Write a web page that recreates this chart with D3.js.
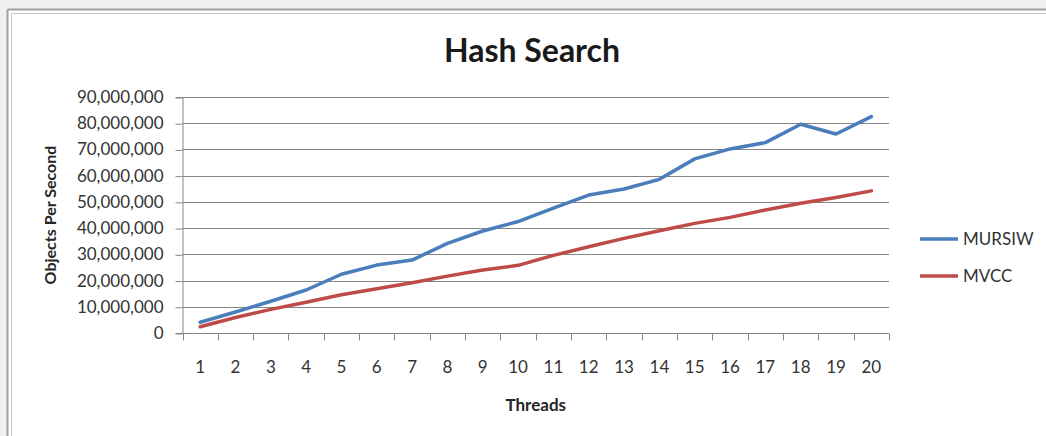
<!DOCTYPE html>
<html>
<head>
<meta charset="utf-8">
<script src="https://cdn.jsdelivr.net/npm/d3@7"></script>
<style>
  html, body { margin: 0; padding: 0; background: #f0f0f0; }
  svg { display: block; }
  text { font-family: Lato, "Open Sans", sans-serif; }
</style>
</head>
<body>
<svg id="chart" width="1046" height="436"></svg>
<script>
// Thread counts on the x axis
const threads = [1, 2, 3, 4, 5, 6, 7, 8, 9, 10, 11, 12, 13, 14, 15, 16, 17, 18, 19, 20];

// Objects per second for each thread count
const mursiw = [4100000, 8000000, 12100000, 16400000, 22400000, 25900000, 27800000, 34200000, 38900000, 42500000,
                47600000, 52600000, 54900000, 58600000, 66400000, 70200000, 72600000, 79600000, 75900000, 82500000];
const mvcc   = [2400000, 5900000, 9000000, 11700000, 14600000, 16900000, 19200000, 21700000, 24000000, 25800000,
                29600000, 32900000, 36100000, 39000000, 41800000, 44100000, 46900000, 49500000, 51700000, 54200000];

// Y axis tick values
const yTicks = [0, 10000000, 20000000, 30000000, 40000000, 50000000, 60000000, 70000000, 80000000, 90000000];

const seriesNames = ["MURSIW", "MVCC"];
const seriesColors = ["#4a7ebb", "#be4b48"];
const seriesValues = [mursiw, mvcc];

const svg = d3.select("#chart");

// Chart frame: white panel with a double gray border on top and left
svg.append("rect").attr("x", 7).attr("y", 9).attr("width", 1046).attr("height", 436).attr("fill", "#ffffff");
const frame = svg.append("g").attr("fill", "none");
frame.append("line").attr("x1", 7.5).attr("x2", 1046).attr("y1", 9.5).attr("y2", 9.5).attr("stroke", "#a0a0a0").attr("stroke-width", 2);
frame.append("line").attr("x1", 7.5).attr("x2", 7.5).attr("y1", 9.5).attr("y2", 436).attr("stroke", "#a0a0a0").attr("stroke-width", 2);
frame.append("line").attr("x1", 11.5).attr("x2", 1046).attr("y1", 13.5).attr("y2", 13.5).attr("stroke", "#c8c8c8").attr("stroke-width", 1);
frame.append("line").attr("x1", 11.5).attr("x2", 11.5).attr("y1", 13.5).attr("y2", 436).attr("stroke", "#c8c8c8").attr("stroke-width", 1);

const plot = { left: 182.5, right: 889, top: 97, bottom: 333 };

const x = d3.scaleBand().domain(threads).range([plot.left, plot.right]).padding(0);
const y = d3.scaleLinear().domain([0, 90000000]).range([plot.bottom, plot.top]);
const fmt = d3.format(",");

// Horizontal gridlines
svg.append("g")
  .selectAll("line")
  .data(yTicks)
  .join("line")
  .attr("x1", plot.left)
  .attr("x2", plot.right)
  .attr("y1", d => Math.round(y(d)) + 0.5)
  .attr("y2", d => Math.round(y(d)) + 0.5)
  .attr("stroke", "#858585")
  .attr("stroke-width", 1.2);

// Y axis
const yAxis = svg.append("g")
  .attr("transform", `translate(${plot.left},0)`)
  .call(d3.axisLeft(y).tickValues(yTicks).tickFormat(fmt).tickSize(7).tickPadding(12));
yAxis.select(".domain").attr("stroke", "#858585");
yAxis.selectAll(".tick line").attr("stroke", "#858585").attr("transform", "translate(0,0.5)");
yAxis.selectAll(".tick text")
  .attr("font-family", "Lato, sans-serif")
  .attr("font-size", 17)
  .attr("fill", "#333333");

// X axis: ticks sit on category boundaries, labels at category centres
const xAxis = svg.append("g")
  .attr("transform", `translate(0,${Math.round(plot.bottom) + 0.5})`);
xAxis.append("line")
  .attr("x1", plot.left).attr("x2", plot.right)
  .attr("stroke", "#858585");
const boundaries = threads.map(t => x(t)).concat([plot.right]);
xAxis.selectAll("line.tk")
  .data(boundaries)
  .join("line")
  .attr("class", "tk")
  .attr("x1", d => Math.round(d) + 0.5)
  .attr("x2", d => Math.round(d) + 0.5)
  .attr("y1", 0).attr("y2", 7)
  .attr("stroke", "#858585");
xAxis.selectAll("text")
  .data(threads)
  .join("text")
  .attr("x", d => x(d) + x.bandwidth() / 2)
  .attr("y", 39)
  .attr("text-anchor", "middle")
  .attr("font-size", 17)
  .attr("fill", "#333333")
  .text(d => d);

// Series lines
const line = d3.line()
  .x((d, i) => x(threads[i]) + x.bandwidth() / 2)
  .y(d => y(d));

svg.append("g")
  .selectAll("path")
  .data(seriesValues)
  .join("path")
  .attr("d", d => line(d))
  .attr("fill", "none")
  .attr("stroke", (d, i) => seriesColors[i])
  .attr("stroke-width", 3.5)
  .attr("stroke-linejoin", "round")
  .attr("stroke-linecap", "round");

// Title
svg.append("text")
  .attr("x", 532)
  .attr("y", 62)
  .attr("text-anchor", "middle")
  .attr("font-size", 32)
  .attr("font-weight", "bold")
  .attr("fill", "#1a1a1a")
  .text("Hash Search");

// Axis titles
svg.append("text")
  .attr("x", (plot.left + plot.right) / 2)
  .attr("y", 411)
  .attr("text-anchor", "middle")
  .attr("font-size", 17)
  .attr("font-weight", "bold")
  .attr("fill", "#262626")
  .text("Threads");

svg.append("text")
  .attr("transform", `translate(56,${(plot.top + plot.bottom) / 2}) rotate(-90)`)
  .attr("text-anchor", "middle")
  .attr("font-size", 16)
  .attr("font-weight", "bold")
  .attr("fill", "#262626")
  .text("Objects Per Second");

// Legend
const legend = svg.append("g")
  .selectAll("g")
  .data(seriesNames)
  .join("g")
  .attr("transform", (d, i) => `translate(920,${239 + i * 37})`);
legend.append("line")
  .attr("x1", 0).attr("x2", 38)
  .attr("stroke", (d, i) => seriesColors[i])
  .attr("stroke-width", 3.5);
legend.append("text")
  .attr("x", 43)
  .attr("dy", "0.36em")
  .attr("font-size", 17)
  .attr("fill", "#333333")
  .text(d => d);
</script>
</body>
</html>
